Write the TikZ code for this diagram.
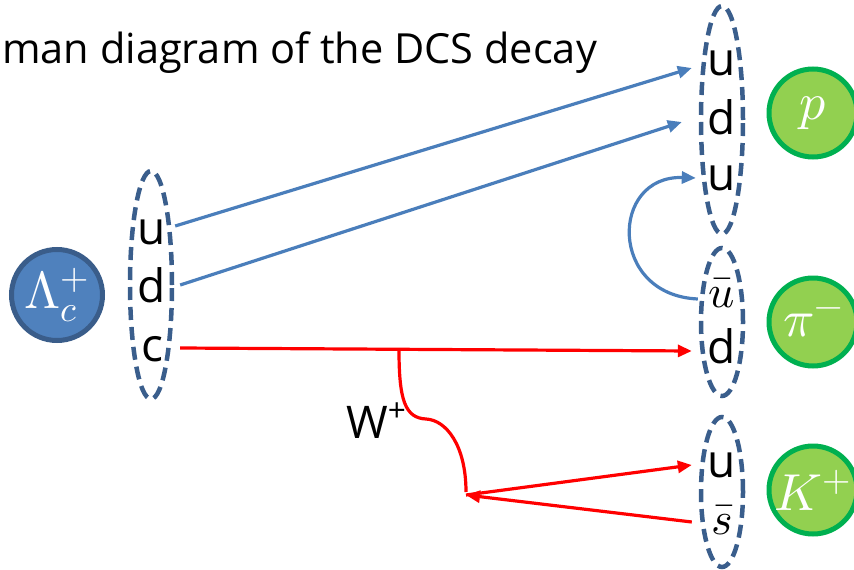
\documentclass[tikz,border=0pt]{standalone}
\usepackage{fontspec}
\usepackage{unicode-math}
\setmainfont{Open Sans}
\setmathfont{Latin Modern Math}
\usetikzlibrary{arrows.meta,shapes.geometric}

\definecolor{ringblue}{HTML}{3A5E8C}
\definecolor{linkblue}{HTML}{4A7EBB}
\definecolor{lamfill}{HTML}{4F81BD}
\definecolor{lamedge}{HTML}{3A5D8A}
\definecolor{hadfill}{HTML}{92D050}
\definecolor{hadedge}{HTML}{00B050}
\definecolor{wred}{HTML}{FF0000}

\begin{document}
\begin{tikzpicture}[x=1pt,y=-1pt,
  bag/.style={draw=ringblue, line width=4.5pt, dash pattern=on 13pt off 7pt,
    ellipse, inner sep=0pt, minimum width=42pt},
  quark/.style={font=\fontsize{46}{46}\selectfont, text height=34pt,
    text depth=9pt, inner sep=0pt},
  lq/.style={quark, minimum width=46pt},
  rq/.style={quark, minimum width=60pt},
  hadron/.style={circle, fill=hadfill, draw=hadedge, line width=5pt,
    minimum size=88pt, inner sep=0pt, text=white,
    font=\fontsize{52}{52}\selectfont},
  tip/.style={-{Triangle[length=14pt,width=12pt]}},
  blueline/.style={draw=linkblue, line width=3.2pt},
  redline/.style={draw=wred, line width=3.2pt}
]
\useasboundingbox (0,0) rectangle (854,570);
\clip (0,0) rectangle (854,570);

% title line
\node[anchor=base west, inner sep=0pt, font=\fontsize{41.5}{42}\selectfont]
  (title) at (2,63) {man diagram of the DCS decay};

% hadrons
\node[hadron, fill=lamfill, draw=lamedge, minimum size=91pt] (lam) at (57,295) {$\Lambda_c^+$};
\node[hadron] (p) at (813,113) {$p$};
\node[hadron] (pi) at (813,322) {$\pi^-$};
\node[hadron] (K) at (813,490) {$K^+$};

% quark bags
\node[bag, minimum height=228pt] (bagL) at (151,285) {};
\node[bag, minimum height=228pt] (bagP) at (722,120) {};
\node[bag, minimum height=148pt] (bagPi) at (722,322) {};
\node[bag, minimum height=150pt] (bagK) at (722,492) {};

% quark content
\node[lq] (lu) at (152,232) {u};
\node[lq] (ld) at (152,290) {d};
\node[lq] (lc) at (152,349) {c};
\node[rq] (pu1) at (722,63) {u};
\node[rq] (pd) at (722,122) {d};
\node[rq] (pu2) at (722,178) {u};
\node[rq] (piu) at (722,295) {$\bar u$};
\node[rq] (pid) at (722,351) {d};
\node[rq] (ku) at (722,465) {u};
\node[rq] (ks) at (722,522) {$\bar s$};

% spectator quarks
\draw[blueline, tip] ([yshift=6pt]lu.east) -- ([yshift=-5pt]pu1.west);
\draw[blueline, tip] ([shift={(5pt,5pt)}]ld.east) -- ([xshift=-10pt]pd.west);
\draw[blueline, tip] ([shift={(6pt,-4pt)}]piu.west)
  .. controls (608,295) and (610,175) .. ([xshift=4pt]pu2.west);

% c -> d transition and W emission
\draw[redline, tip] ([shift={(5pt,1pt)}]lc.east) -- (pid.west);
\coordinate (wv) at (399,350);
\coordinate (wbend) at (426,419);
\coordinate (wtip) at (466,495);
\draw[redline] (wv) .. controls (399,400) and (405,418) .. (wbend)
  .. controls (446,420) and (466,445) .. ([yshift=3pt]wtip);
\node[anchor=base west, inner sep=0pt, font=\fontsize{45}{45}\selectfont]
  (wlab) at (346,438) {W\textsuperscript{+}};

% W -> u sbar
\draw[redline, tip] (wtip) -- (ku.west);
\draw[redline, tip] (ks.west) -- (wtip);
\end{tikzpicture}
\end{document}
